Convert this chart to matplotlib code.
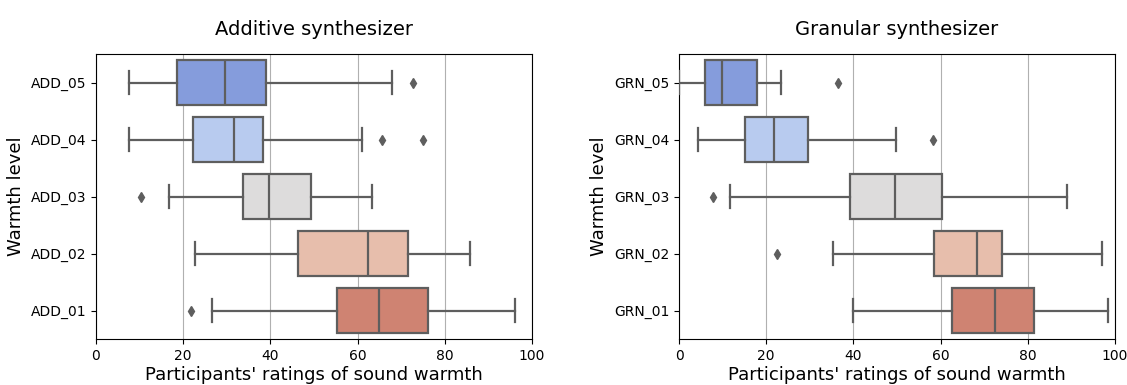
import numpy as np
import matplotlib
matplotlib.use('Agg')
import matplotlib.pyplot as plt
import seaborn as sns

# 箱线图统计值
add_labels = ['ADD_05', 'ADD_04', 'ADD_03', 'ADD_02', 'ADD_01']
add_whislo = [7.6, 7.6, 16.8, 22.8, 26.7]
add_q1 = [18.6, 22.2, 33.8, 46.4, 55.3]
add_med = [29.7, 31.7, 39.7, 62.3, 64.9]
add_q3 = [39.0, 38.4, 49.4, 71.5, 76.2]
add_whishi = [67.9, 61.1, 63.4, 85.7, 96.2]
add_fliers = [[72.7], [65.6, 74.9], [10.4], [], [21.8]]

grn_labels = ['GRN_05', 'GRN_04', 'GRN_03', 'GRN_02', 'GRN_01']
grn_whislo = [0.0, 4.4, 11.6, 35.4, 40.0]
grn_q1 = [5.9, 15.1, 39.3, 58.4, 62.6]
grn_med = [9.8, 21.8, 49.5, 68.3, 72.5]
grn_q3 = [17.9, 29.5, 60.4, 74.0, 81.5]
grn_whishi = [23.5, 49.8, 89.1, 97.0, 98.4]
grn_fliers = [[36.5], [58.3], [7.8], [22.4], []]

colors = [sns.desaturate(c, 0.66) for c in sns.color_palette('coolwarm', 5)]
line_col = '#5e5e5e'

fig = plt.figure(figsize=(11.27, 3.85), dpi=100)
ax1 = fig.add_axes([96 / 1127, 1 - 339 / 385, 436 / 1127, 285 / 385])
ax2 = fig.add_axes([679 / 1127, 1 - 339 / 385, 436 / 1127, 285 / 385])


def draw(ax, labels, whislo, q1, med, q3, whishi, fliers, title):
    stats = []
    for i in range(len(labels)):
        stats.append(dict(label=labels[i], whislo=whislo[i], q1=q1[i], med=med[i],
                          q3=q3[i], whishi=whishi[i], fliers=fliers[i]))
    pos = np.arange(len(labels))[::-1]
    bp = ax.bxp(stats, positions=pos, vert=False, widths=0.8, patch_artist=True,
                boxprops=dict(edgecolor=line_col, linewidth=1.6),
                medianprops=dict(color=line_col, linewidth=1.6),
                whiskerprops=dict(color=line_col, linewidth=1.6),
                capprops=dict(color=line_col, linewidth=1.6),
                flierprops=dict(marker='d', markerfacecolor=line_col, markeredgecolor=line_col,
                                markersize=5, linestyle='none'),
                zorder=3)
    for patch, c in zip(bp['boxes'], colors):
        patch.set_facecolor(c)
    ax.set_xlim(0, 100)
    ax.set_ylim(-0.5, len(labels) - 0.5)
    ax.set_xticks([0, 20, 40, 60, 80, 100])
    ax.grid(axis='x', color='#b0b0b0', linewidth=0.8, zorder=0)
    ax.set_axisbelow(True)
    ax.tick_params(labelsize=10)
    ax.set_xlabel("Participants' ratings of sound warmth", fontsize=13, labelpad=2)
    ax.set_ylabel('Warmth level', fontsize=13)
    ax.set_title(title, fontsize=14, pad=14)


draw(ax1, add_labels, add_whislo, add_q1, add_med, add_q3, add_whishi, add_fliers, 'Additive synthesizer')
draw(ax2, grn_labels, grn_whislo, grn_q1, grn_med, grn_q3, grn_whishi, grn_fliers, 'Granular synthesizer')

fig.savefig('out.png', dpi=100)
